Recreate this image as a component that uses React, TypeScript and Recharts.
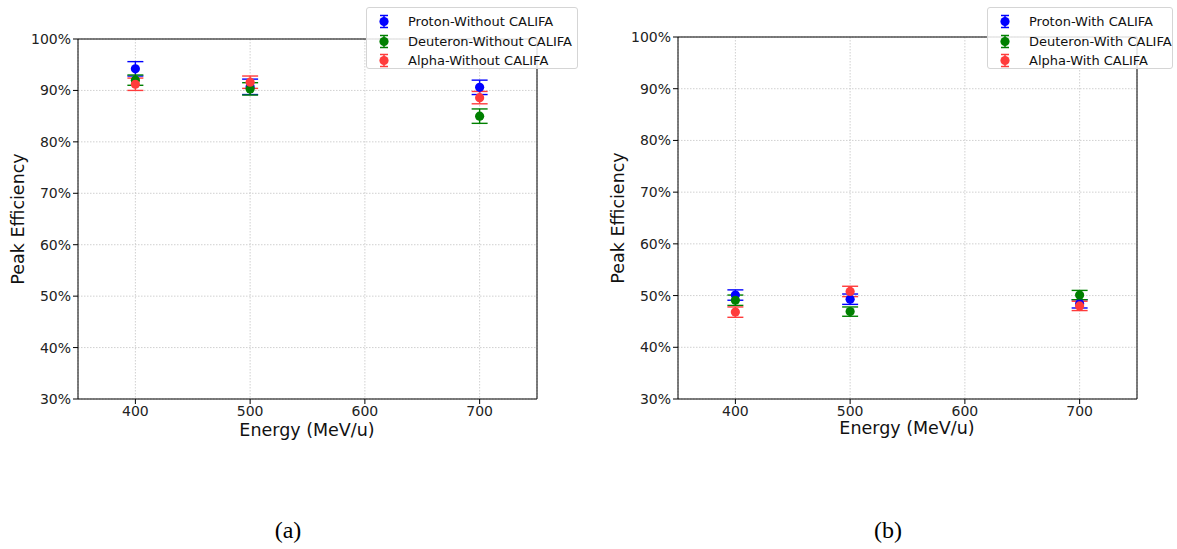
import React from "react";
import {
  ComposedChart,
  Scatter,
  ErrorBar,
  XAxis,
  YAxis,
  CartesianGrid,
  ReferenceLine,
} from "recharts";

const energies = [400, 500, 700];
const xTicks = [400, 500, 600, 700];
const yTicks = [30, 40, 50, 60, 70, 80, 90, 100];

const protonWithout = [94.2, 90.7, 90.6];
const protonWithoutErr = [1.4, 1.5, 1.4];
const deuteronWithout = [92.0, 90.3, 85.0];
const deuteronWithoutErr = [1.0, 1.2, 1.4];
const alphaWithout = [91.2, 91.6, 88.6];
const alphaWithoutErr = [1.2, 1.2, 1.2];

const protonWith = [50.1, 49.3, 48.4];
const protonWithErr = [1.0, 1.0, 0.8];
const deuteronWith = [49.1, 46.9, 50.1];
const deuteronWithErr = [1.0, 0.9, 0.9];
const alphaWith = [46.8, 50.8, 48.0];
const alphaWithErr = [1.0, 1.0, 0.9];

const BLUE = "#0000ff";
const GREEN = "#008000";
const RED = "#ff3b3b";

const FONT = "'DejaVu Sans', sans-serif";

type Series = { name: string; color: string; values: number[]; errs: number[] };

const build = (values: number[], errs: number[]) =>
  energies.map((x, i) => ({ x, y: values[i], err: errs[i] }));

const Dot = (color: string) => (p: any) =>
  <circle cx={p.cx} cy={p.cy} r={4.6} fill={color} />;

function Panel({ series, left, top }: { series: Series[]; left: number; top: number }) {
  return (
    <div style={{ position: "absolute", left, top: 0 }}>
      <ComposedChart
        width={600}
        height={460}
        margin={{ top, right: 63, bottom: 31, left: 18 }}
      >
        <CartesianGrid stroke="#c4c4c4" strokeDasharray="1.5 1.5" strokeWidth={0.8} />
        <XAxis
          type="number"
          dataKey="x"
          domain={[350, 750]}
          ticks={xTicks}
          allowDataOverflow
          height={30}
          stroke="#000"
          tick={{ fill: "#222", fontSize: 14, fontFamily: FONT }}
          tickSize={5}
        />
        <YAxis
          type="number"
          dataKey="y"
          domain={[30, 100]}
          ticks={yTicks}
          allowDataOverflow
          width={60}
          stroke="#000"
          tickFormatter={(v: number) => `${v}%`}
          tick={{ fill: "#222", fontSize: 14, fontFamily: FONT }}
          tickSize={5}
        />
        <ReferenceLine y={100} stroke="#000" strokeWidth={1} />
        <ReferenceLine x={750} stroke="#000" strokeWidth={1} />
        {series.map((s) => (
          <Scatter
            key={s.name}
            name={s.name}
            data={build(s.values, s.errs)}
            fill={s.color}
            shape={Dot(s.color)}
            isAnimationActive={false}
          >
            <ErrorBar dataKey="err" direction="y" width={8} stroke={s.color} strokeWidth={1.4} />
          </Scatter>
        ))}
      </ComposedChart>
    </div>
  );
}

function LegendBox({
  series,
  left,
  width,
}: {
  series: Series[];
  left: number;
  width: number;
}) {
  return (
    <div
      style={{
        position: "absolute",
        left,
        top: 7,
        width,
        height: 62,
        border: "1px solid #d5d5d5",
        borderRadius: 3,
        background: "rgba(255,255,255,0.85)",
        fontFamily: FONT,
        fontSize: 13,
        color: "#111",
        boxSizing: "border-box",
      }}
    >
      {series.map((s, i) => (
        <div
          key={s.name}
          style={{ position: "absolute", left: 0, top: 4 + i * 19.5, height: 19, display: "flex", alignItems: "center" }}
        >
          <svg width={40} height={19} style={{ display: "block" }}>
            <line x1={17} x2={17} y1={3.5} y2={15.5} stroke={s.color} strokeWidth={1.5} />
            <line x1={13} x2={21} y1={3.5} y2={3.5} stroke={s.color} strokeWidth={1.5} />
            <line x1={13} x2={21} y1={15.5} y2={15.5} stroke={s.color} strokeWidth={1.5} />
            <circle cx={17} cy={9.5} r={4.6} fill={s.color} />
          </svg>
          <span style={{ marginLeft: 1 }}>{s.name}</span>
        </div>
      ))}
    </div>
  );
}

const seriesWithout: Series[] = [
  { name: "Proton-Without CALIFA", color: BLUE, values: protonWithout, errs: protonWithoutErr },
  { name: "Deuteron-Without CALIFA", color: GREEN, values: deuteronWithout, errs: deuteronWithoutErr },
  { name: "Alpha-Without CALIFA", color: RED, values: alphaWithout, errs: alphaWithoutErr },
];

const seriesWith: Series[] = [
  { name: "Proton-With CALIFA", color: BLUE, values: protonWith, errs: protonWithErr },
  { name: "Deuteron-With CALIFA", color: GREEN, values: deuteronWith, errs: deuteronWithErr },
  { name: "Alpha-With CALIFA", color: RED, values: alphaWith, errs: alphaWithErr },
];

const labelStyle: React.CSSProperties = {
  position: "absolute",
  fontFamily: FONT,
  fontSize: 17.5,
  color: "#111",
  whiteSpace: "nowrap",
};

export default function App() {
  return (
    <div
      style={{
        position: "fixed",
        left: 0,
        top: 0,
        width: 1177,
        height: 549,
        background: "#fff",
        overflow: "hidden",
      }}
    >
      <Panel series={seriesWithout} left={0} top={39} />
      <Panel series={seriesWith} left={600} top={37} />

      <div style={{ ...labelStyle, left: 18, top: 219, transform: "translate(-50%,-50%) rotate(-90deg)" }}>
        Peak Efficiency
      </div>
      <div style={{ ...labelStyle, left: 618, top: 218, transform: "translate(-50%,-50%) rotate(-90deg)" }}>
        Peak Efficiency
      </div>
      <div style={{ ...labelStyle, left: 307, top: 430, transform: "translate(-50%,-50%)" }}>
        Energy (MeV/u)
      </div>
      <div style={{ ...labelStyle, left: 907, top: 428, transform: "translate(-50%,-50%)" }}>
        Energy (MeV/u)
      </div>

      <LegendBox series={seriesWithout} left={366} width={212} />
      <LegendBox series={seriesWith} left={987} width={186} />

      <div
        style={{
          position: "absolute",
          left: 288,
          top: 530,
          transform: "translate(-50%,-50%)",
          fontFamily: "'Liberation Serif', serif",
          fontSize: 24,
          color: "#000",
        }}
      >
        (a)
      </div>
      <div
        style={{
          position: "absolute",
          left: 888,
          top: 530,
          transform: "translate(-50%,-50%)",
          fontFamily: "'Liberation Serif', serif",
          fontSize: 24,
          color: "#000",
        }}
      >
        (b)
      </div>
    </div>
  );
}
